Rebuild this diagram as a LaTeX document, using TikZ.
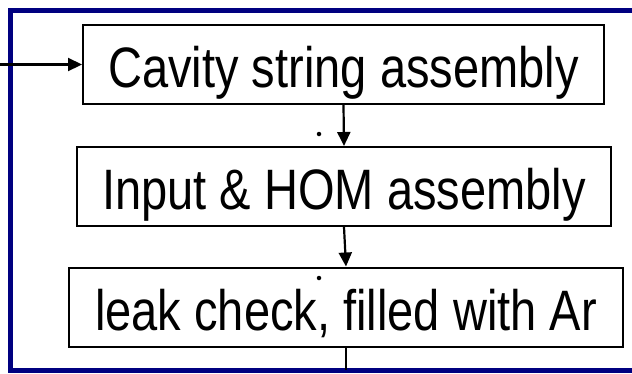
\documentclass[tikz,border=0pt]{standalone}
\usepackage{graphicx}
\usepackage{fontspec}
\setmainfont{Liberation Sans}
\usetikzlibrary{arrows.meta}
\definecolor{framenavy}{RGB}{0,0,128}
% narrow, tall lettering for the step labels
\newcommand{\steplabel}[1]{\scalebox{0.825}[1]{#1}}
\tikzset{
  stepbox/.style={draw=black, line width=2pt, fill=white, inner sep=0pt,
    font=\fontsize{57}{57}\selectfont, text height=46pt, text depth=0pt,
    minimum height=79pt},
  flow/.style={draw=black, line width=2.2pt, -{Triangle[length=14pt,width=13pt]}},
  plainflow/.style={draw=black, line width=2.2pt},
  spot/.style={circle, fill=black, inner sep=0pt, minimum size=4.5pt}
}
\begin{document}
\begin{tikzpicture}[x=1pt,y=-1pt]
  \useasboundingbox (0,0) rectangle (632,373);
  \clip (0,0) rectangle (632,373);
  % outer frame, open to the right
  \draw[framenavy, line width=5pt] (645,10.5) -- (10.5,10.5) -- (10.5,370) -- (645,370);
  % process steps
  \node[stepbox, minimum width=521pt] (b1) at (343.5,64.5) {\steplabel{Cavity string assembly}};
  \node[stepbox, minimum width=534pt] (b2) at (344,186.5) {\steplabel{Input \& HOM assembly}};
  \node[stepbox, minimum width=554pt] (b3) at (346,307) {\steplabel{leak check, filled with Ar}};
  % connectors
  \coordinate (inlet) at (0,64.5);
  \coordinate (outlet) at (346,370);
  \draw[flow] (inlet) -- (b1.west);
  \draw[flow] (b1.south) -- (b2.north);
  \draw[flow] (b2.south) -- (b3.north);
  \draw[plainflow] (b3.south) -- (outlet);
  % stray marks
  \node[spot] (m1) at (319,134) {};
  \node[spot] (m2) at (319,278) {};
\end{tikzpicture}
\end{document}
